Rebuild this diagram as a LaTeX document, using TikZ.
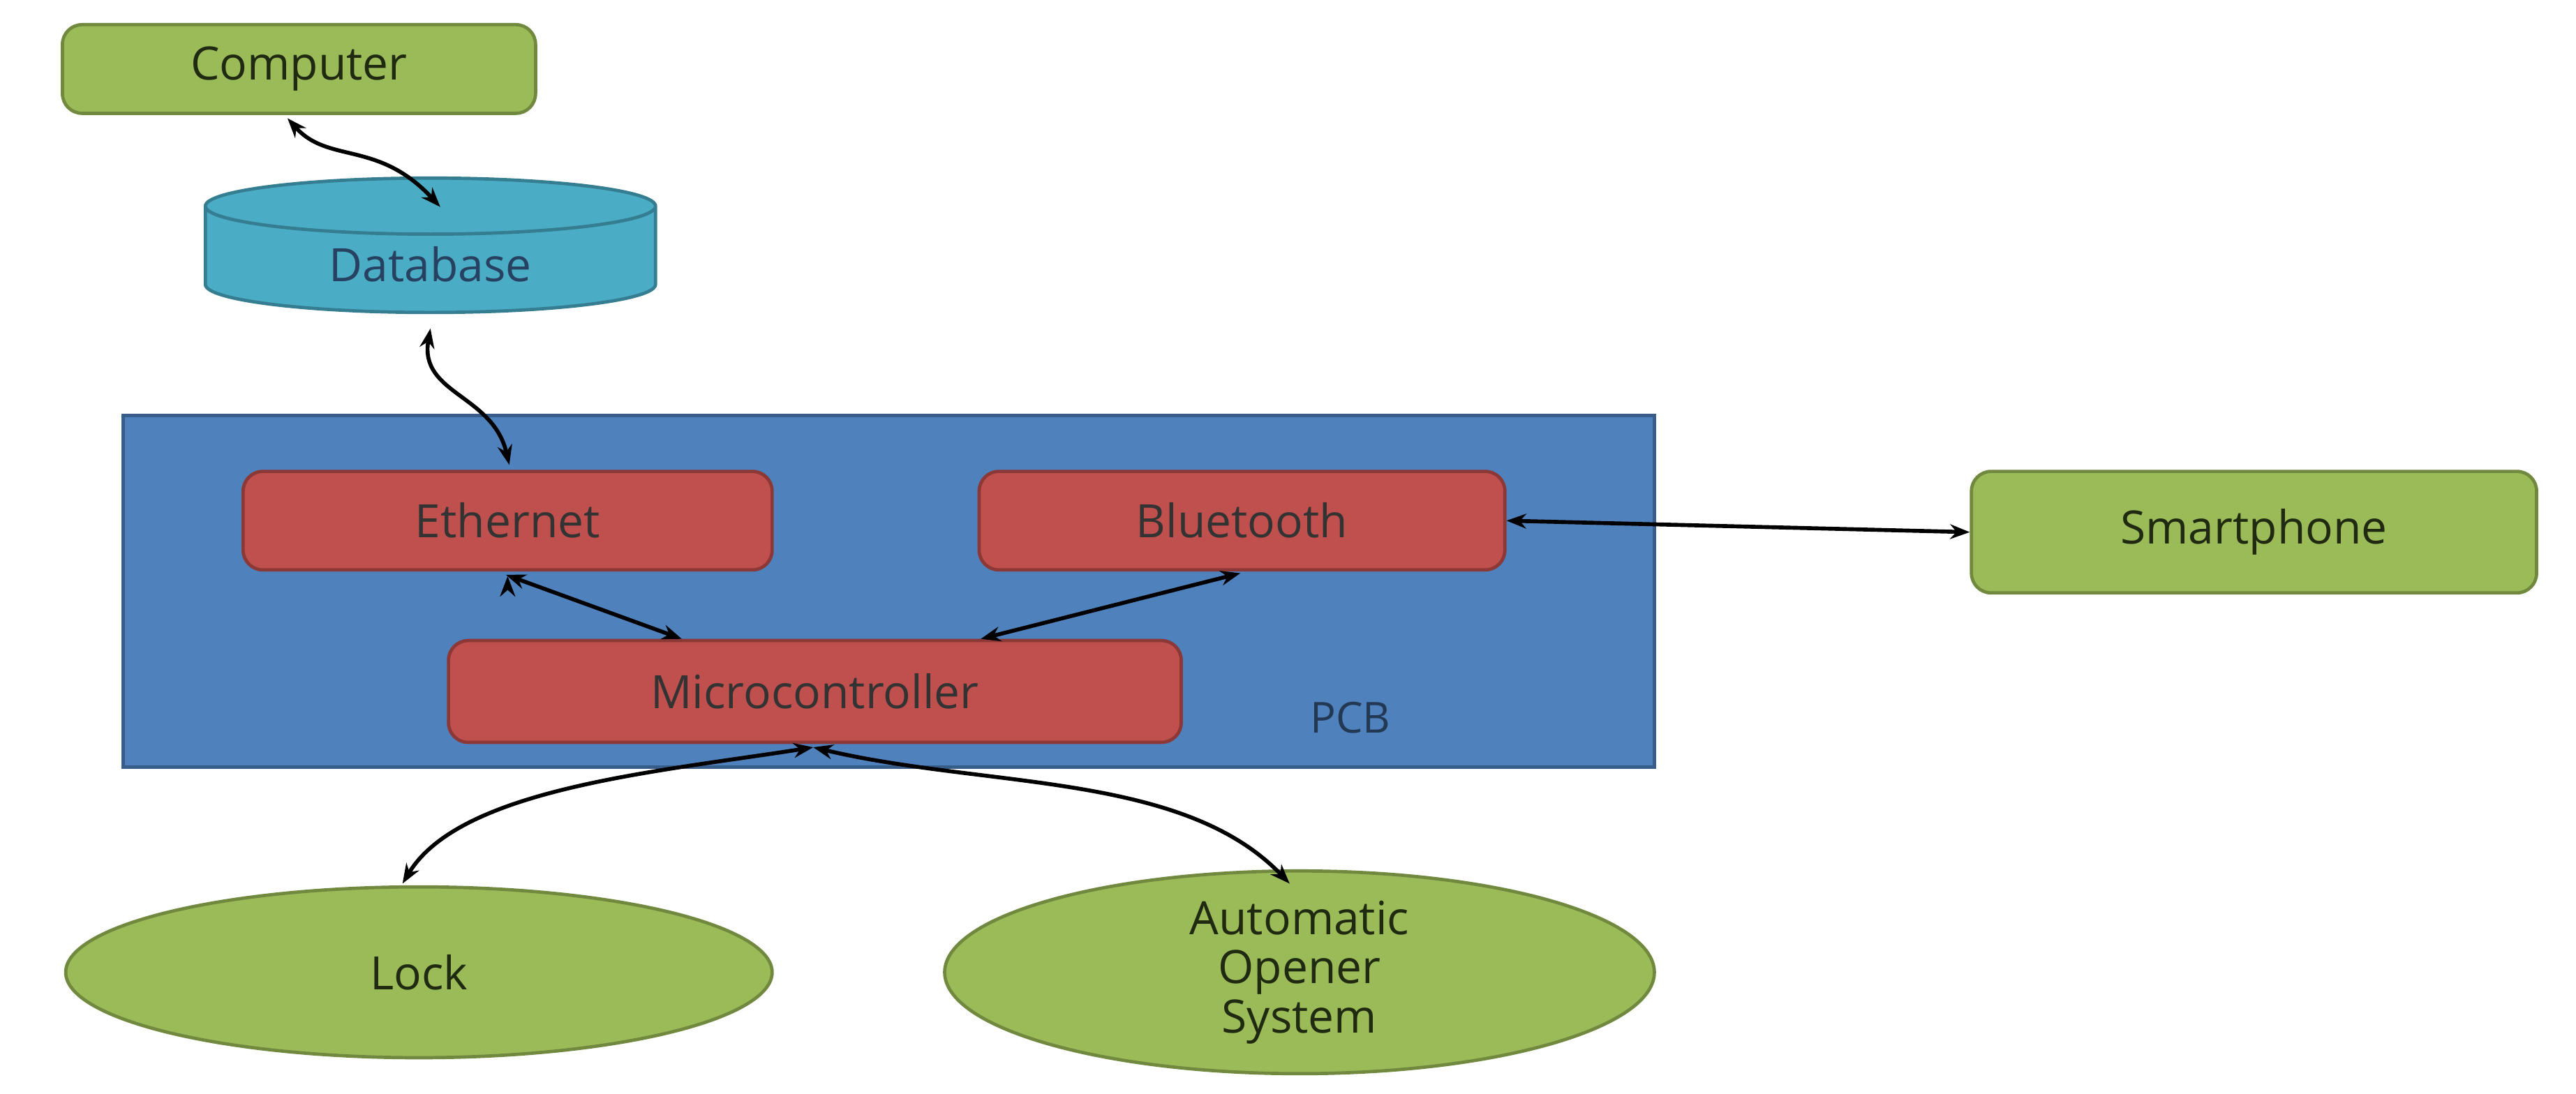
\documentclass[tikz,border=0pt]{standalone}
\usepackage{fontspec}
\setmainfont{Open Sans}
\usetikzlibrary{shapes.geometric,arrows.meta}
\definecolor{gfill}{HTML}{9BBB59}\definecolor{gdraw}{HTML}{71893F}
\definecolor{rfill}{HTML}{C0504D}\definecolor{rdraw}{HTML}{8C3836}
\definecolor{bfill}{HTML}{4F81BD}\definecolor{bdraw}{HTML}{385D8A}
\definecolor{dfill}{HTML}{4BACC6}\definecolor{ddraw}{HTML}{357D91}
\definecolor{tdark}{HTML}{1F2A10}
\tikzset{
 gbox/.style={rectangle,rounded corners=6pt,fill=gfill,draw=gdraw,line width=1pt,text=tdark,font=\fontsize{14}{16}\selectfont},
 rbox/.style={rectangle,rounded corners=6pt,fill=rfill,draw=rdraw,line width=1pt,text=black!80,font=\fontsize{14}{16}\selectfont},
 gell/.style={ellipse,fill=gfill,draw=gdraw,line width=1pt,text=tdark,font=\fontsize{14}{15}\selectfont,align=center},
 conn/.style={line width=1.2pt,{Stealth[length=6pt]}-{Stealth[length=6pt]}}
}
\begin{document}
\begin{tikzpicture}[x=0.5pt,y=0.5pt]
\useasboundingbox (0,0) rectangle (1568,-666);
\fill[white] (0,0) rectangle (1568,-666);
\node[gbox,minimum width=144pt,minimum height=27pt] (comp) at (182,-42) {Computer};
\node[cylinder,shape border rotate=90,aspect=0.25,fill=dfill,draw=ddraw,line width=1pt,minimum width=137pt,minimum height=34pt,text=bdraw!70!black,font=\fontsize{14}{16}\selectfont] (db) at (262,-161) {Database};
\node[rectangle,fill=bfill,draw=bdraw,line width=1pt,minimum width=466pt,minimum height=107pt] (pcb) at (541,-360) {};
\node[text=bdraw!60!black,font=\fontsize{13}{15}\selectfont] (pcbl) at (822,-437) {PCB};
\node[rbox,minimum width=161pt,minimum height=30pt] (eth) at (309,-317) {Ethernet};
\node[rbox,minimum width=160pt,minimum height=30pt] (bt) at (756,-317) {Bluetooth};
\node[rbox,minimum width=223pt,minimum height=31pt] (mc) at (496,-421) {Microcontroller};
\node[gbox,minimum width=172pt,minimum height=37pt] (sp) at (1372,-324) {Smartphone};
\node[gell,minimum width=215pt,minimum height=52pt] (lock) at (255,-592) {Lock};
\node[gell,minimum width=216pt,minimum height=52pt,inner sep=0pt] (aos) at (791,-592) {Automatic\\Opener\\System};
\draw[conn] (175,-72) .. controls (200,-100) and (230,-85) .. (268,-126);
\draw[conn] (262,-200) .. controls (255,-240) and (300,-240) .. (310,-283);
\draw[conn] (eth.south) ++(0,-3) coordinate (e1) (e1) ++(0,0);
\draw[conn] (308,-350) -- (415,-389);
\draw[conn] (597,-389) -- (755,-349);
\draw[conn] (bt.east) -- (sp.west);
\draw[conn] (495,-455) .. controls (400,-470) and (280,-480) .. (245,-538);
\draw[conn] (495,-455) .. controls (600,-480) and (720,-470) .. (785,-538);
\end{tikzpicture}
\end{document}
